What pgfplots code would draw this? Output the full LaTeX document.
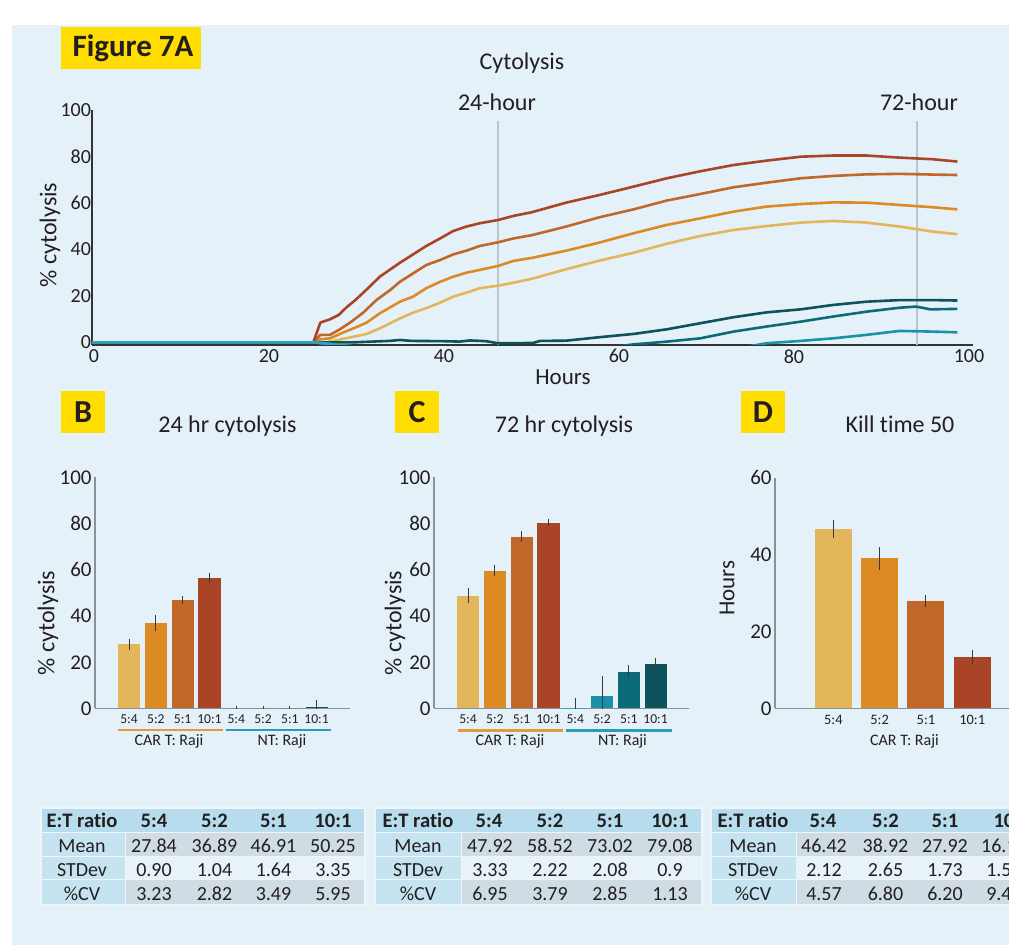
\documentclass[border=0pt]{standalone}
\usepackage{fontspec}
\setmainfont{Carlito}[Ligatures=NoCommon]
\usepackage{pgfplots}
\pgfplotsset{compat=1.18}
\definecolor{bg}{HTML}{E4F1F8}
\definecolor{yel}{HTML}{FFDD00}
\definecolor{txt}{HTML}{231F20}
\definecolor{c1}{HTML}{E3B65C}
\definecolor{c2}{HTML}{DC8A24}
\definecolor{c3}{HTML}{C16828}
\definecolor{c4}{HTML}{A94426}
\definecolor{n1}{HTML}{2AA7BF}
\definecolor{n2}{HTML}{1A91A8}
\definecolor{n3}{HTML}{0B6C78}
\definecolor{n4}{HTML}{0E525B}
\definecolor{axg}{HTML}{8A9297}
\definecolor{vline}{HTML}{BCC3C9}
\definecolor{errc}{HTML}{3A3A3A}
\definecolor{grpo}{HTML}{E39A3A}
\definecolor{grpt}{HTML}{2A9DB5}
\definecolor{thead}{HTML}{B6DCEE}
\definecolor{tlab}{HTML}{C5E3F1}
\definecolor{tgray}{HTML}{D0DCE3}
\definecolor{tlight}{HTML}{E8F3F9}
\definecolor{tframe}{HTML}{EEF6FA}
\pgfplotsset{
  panel/.style={scale only axis, anchor=south west, axis lines=left,
    enlargelimits=false, clip=true,
    major tick length=0pt, tick style={draw=none},
    /pgf/number format/assume math mode=true,
    tick label style={text=txt}},
  mybar/.style={ybar, bar width=#1, bar shift=0pt, draw=none,
    /pgfplots/error bars/y dir=both, /pgfplots/error bars/y explicit,
    /pgfplots/error bars/error bar style={line width=0.5pt, color=errc},
    /pgfplots/error bars/error mark options={mark size=1.3pt, line width=0.5pt, color=errc}},
  curve/.style={line width=1.3pt, mark=none, line join=round},
}
\begin{document}
\begin{tikzpicture}[x=0.5pt,y=-0.5pt]
\path[use as bounding box] (0,0) rectangle (1009,945);
\clip (0,0) rectangle (1009,945);
\fill[white] (0,0) rectangle (1009,945);
\fill[bg] (12,25) rectangle (1009,945);
\coordinate (Aorig) at (92,345);
\coordinate (Borig) at (95,708.5);
\coordinate (Corig) at (434,708.5);
\coordinate (Dorig) at (775,708.5);

% ---------- Panel A ----------
\begin{axis}[panel, at={(Aorig)}, width=440.5pt, height=117.35pt,
  xmin=0, xmax=100.69, ymin=-1.16, ymax=100,
  xtick={0,20,...,100}, ytick={0,20,...,100},
  axis line style={-, line width=0.75pt, draw=black!80},
  yticklabel style={font=\fontsize{10}{12}\selectfont, inner xsep=0.3pt},
  xticklabel style={font=\fontsize{10}{12}\selectfont, inner ysep=2pt, xshift=1pt}]
\addplot[line width=1pt, vline] coordinates {(46.4,-1.16) (46.4,95.5)};
\addplot[line width=1pt, vline] coordinates {(94.3,-1.16) (94.3,95.5)};
\addplot[curve, c1] coordinates {(0,0) (25.3,0) (26.5,-0.3) (28.5,1.3) (29.9,2.4) (31.4,3.6) (32.9,6.0) (35.2,10.3) (36.7,12.8) (38.2,14.7) (39.8,17.1) (41.3,19.7) (42.8,21.4) (44.3,23.3) (46.4,24.4) (48.2,25.7) (50.3,27.4) (54.2,31.5) (58.0,35.2) (61.9,38.6) (65.7,42.5) (69.5,45.8) (73.3,48.4) (77.1,50.1) (81.0,51.6) (84.7,52.3) (88.5,51.6) (92.3,49.9) (96.1,47.7) (98.9,46.6)};
\addplot[curve, c2] coordinates {(0,0) (25.3,0) (26.1,1.3) (27.2,1.7) (28.7,4.2) (30.2,6.5) (31.4,8.5) (32.9,12.5) (35.2,17.5) (36.7,19.7) (38.2,23.3) (39.8,26.1) (41.3,28.3) (42.8,30.0) (44.3,31.2) (46.4,32.9) (48.2,35.1) (50.3,36.4) (54.2,39.5) (58.0,43.0) (61.9,47.0) (65.7,50.6) (69.5,53.4) (73.3,56.3) (77.1,58.5) (81.0,59.6) (84.7,60.3) (88.5,60.2) (92.3,59.2) (96.1,58.2) (98.9,57.3)};
\addplot[curve, c3] coordinates {(0,0) (25.3,0) (26.1,3.2) (27.2,3.2) (28.2,5.3) (29.5,8.5) (31.0,12.8) (32.5,18.2) (34.1,22.6) (35.2,26.1) (36.7,29.7) (38.2,33.3) (39.8,35.5) (41.3,37.9) (42.8,39.5) (44.3,41.5) (46.4,43.1) (48.2,44.8) (50.3,46.2) (54.2,49.9) (58.0,53.9) (61.9,57.3) (65.7,61.1) (69.5,63.9) (73.3,66.8) (77.1,68.8) (81.0,70.7) (84.7,71.7) (88.5,72.4) (92.3,72.6) (96.1,72.3) (98.9,72.1)};
\addplot[curve, c4] coordinates {(0,0) (25.3,0) (26.1,8.5) (27.2,9.9) (28.2,11.8) (29.1,15.1) (30.1,18.2) (31.4,22.8) (32.9,28.3) (35.2,34.3) (36.7,37.9) (38.2,41.5) (39.8,44.8) (41.3,48.0) (42.8,49.9) (44.3,51.3) (46.4,52.7) (48.2,54.5) (50.2,56.0) (54.2,60.2) (58.0,63.5) (61.9,67.1) (65.7,70.7) (69.5,73.7) (73.3,76.4) (77.1,78.3) (81.0,80.0) (84.7,80.5) (88.5,80.5) (92.3,79.6) (96.1,78.9) (98.9,77.9)};
\addplot[curve, n4] coordinates {(0,0) (25.3,0) (30,0) (32,0.3) (34,0.6) (35.2,1.0) (36.5,0.6) (40,0.5) (42,0.3) (43.2,0.8) (45,0.5) (46.4,-0.4) (50.4,-0.3) (51.2,0.6) (54.2,0.7) (58.0,2.2) (61.9,3.6) (65.7,5.6) (69.5,8.2) (73.3,10.8) (77.1,12.9) (81.0,14.2) (84.7,16.1) (88.5,17.5) (92.3,18.2) (96.1,18.2) (98.9,18.0)};
\addplot[curve, n3] coordinates {(0,0) (25.3,0) (30,-1.8) (60,-1.8) (61.9,-0.9) (65.7,0.3) (69.5,1.7) (73.3,4.6) (77.1,6.8) (81.0,8.9) (84.7,11.1) (88.5,13.2) (92.3,14.9) (94.2,15.4) (95.8,14.2) (98.9,14.4)};
\addplot[curve, n2] coordinates {(0,0) (25.3,0) (30,-1.8) (75,-1.8) (77.1,-0.4) (81.0,0.6) (84.7,1.7) (88.5,3.2) (92.3,4.9) (96.1,4.6) (98.9,4.3)};
\addplot[curve, n1] coordinates {(0,0) (25.3,0) (30,-1.8) (98.9,-1.8)};
\end{axis}

% ---------- Panel B ----------
\begin{axis}[panel, at={(Borig)}, width=127.5pt, height=115.5pt,
  xmin=-1.27, xmax=8.246, ymin=0, ymax=100,
  ytick={0,20,...,100}, xtick={0,...,7},
  xticklabels={5:4,5:2,5:1,10:1,5:4,5:2,5:1,10:1},
  axis line style={-, line width=0.85pt, draw=axg},
  yticklabel style={font=\fontsize{10.5}{12}\selectfont, inner xsep=1.5pt},
  xticklabel style={font=\fontsize{6.8}{8}\selectfont, inner ysep=3pt}]
\addplot[mybar=11.1pt, fill=c1] coordinates {(0,27.8) +- (0,1.2)};
\addplot[mybar=11.1pt, fill=c2] coordinates {(1,36.9) +- (0,2.3)};
\addplot[mybar=11.1pt, fill=c3] coordinates {(2,46.9) +- (0,0.65)};
\addplot[mybar=11.1pt, fill=c4] coordinates {(3,56.4) +- (0,1.15)};
\addplot[mybar=11.1pt, fill=n1] coordinates {(4,0) +- (0,0)};
\addplot[mybar=11.1pt, fill=n2] coordinates {(5,0) +- (0,0)};
\addplot[mybar=11.1pt, fill=n3] coordinates {(6,0) +- (0,0)};
\addplot[mybar=11.1pt, fill=n4] coordinates {(7,0.8) +- (0,1.6)};
\end{axis}

% ---------- Panel C ----------
\begin{axis}[panel, at={(Corig)}, width=127.5pt, height=115.5pt,
  xmin=-1.27, xmax=8.246, ymin=0, ymax=100,
  ytick={0,20,...,100}, xtick={0,...,7},
  xticklabels={5:4,5:2,5:1,10:1,5:4,5:2,5:1,10:1},
  axis line style={-, line width=0.85pt, draw=axg},
  yticklabel style={font=\fontsize{10.5}{12}\selectfont, inner xsep=1.5pt},
  xticklabel style={font=\fontsize{6.8}{8}\selectfont, inner ysep=3pt}]
\addplot[mybar=11.1pt, fill=c1] coordinates {(0,48.8) +- (0,2.2)};
\addplot[mybar=11.1pt, fill=c2] coordinates {(1,59.6) +- (0,1.3)};
\addplot[mybar=11.1pt, fill=c3] coordinates {(2,74.3) +- (0,1.2)};
\addplot[mybar=11.1pt, fill=c4] coordinates {(3,80.4) +- (0,0.4)};
\addplot[mybar=11.1pt, fill=n1] coordinates {(4,0.3) +- (0,3.2)};
\addplot[mybar=11.1pt, fill=n2] coordinates {(5,5.5) +- (0,7.3)};
\addplot[mybar=11.1pt, fill=n3] coordinates {(6,15.9) +- (0,1.7)};
\addplot[mybar=11.1pt, fill=n4] coordinates {(7,19.3) +- (0,1.3)};
\end{axis}

% ---------- Panel D ----------
\begin{axis}[panel, at={(Dorig)}, width=117pt, height=115.5pt,
  xmin=-1.26, xmax=3.794, ymin=0, ymax=60,
  ytick={0,20,40,60}, xtick={0,...,3},
  xticklabels={5:4,5:2,5:1,10:1},
  axis line style={-, line width=0.85pt, draw=axg},
  yticklabel style={font=\fontsize{10.5}{12}\selectfont, inner xsep=1.5pt},
  xticklabel style={font=\fontsize{7.2}{8}\selectfont, inner ysep=3pt}]
\addplot[mybar=18.5pt, fill=c1] coordinates {(0,46.6) +- (0,1.56)};
\addplot[mybar=18.5pt, fill=c2] coordinates {(1,39.0) +- (0,2.3)};
\addplot[mybar=18.5pt, fill=c3] coordinates {(2,27.9) +- (0,0.95)};
\addplot[mybar=18.5pt, fill=c4] coordinates {(3,13.3) +- (0,1.1)};
\end{axis}

% ---------- Text ----------
\fill[yel] (61,27) rectangle (201,69);
\node[anchor=base, text=txt, font=\fontsize{15.5}{18}\selectfont\bfseries] at (133,57) {Figure 7A};
\node[anchor=base, text=txt, font=\fontsize{12}{14}\selectfont] at (522,70) {Cytolysis};
\node[anchor=base, text=txt, font=\fontsize{12}{14}\selectfont] at (497,111) {24-hour};
\node[anchor=base, text=txt, font=\fontsize{12}{14}\selectfont] at (919,111) {72-hour};
\node[text=txt, font=\fontsize{11.5}{14}\selectfont] at (563,377) {Hours};
\node[rotate=90, text=txt, font=\fontsize{12}{14}\selectfont] at (50,235) {\% cytolysis};

\fill[yel] (61,391) rectangle (105,433);
\fill[yel] (395,391) rectangle (439,433);
\fill[yel] (741,391) rectangle (785,433);
\node[anchor=base, text=txt, font=\fontsize{16}{18}\selectfont\bfseries] at (83,423) {B};
\node[anchor=base, text=txt, font=\fontsize{16}{18}\selectfont\bfseries] at (417,423) {C};
\node[anchor=base, text=txt, font=\fontsize{16}{18}\selectfont\bfseries] at (763,423) {D};
\node[anchor=base, text=txt, font=\fontsize{12}{14}\selectfont] at (227.5,433) {24 hr cytolysis};
\node[anchor=base, text=txt, font=\fontsize{12}{14}\selectfont] at (564,433) {72 hr cytolysis};
\node[anchor=base, text=txt, font=\fontsize{12}{14}\selectfont] at (900,433) {Kill time 50};

\node[rotate=90, text=txt, font=\fontsize{12}{14}\selectfont] at (48,623) {\% cytolysis};
\node[rotate=90, text=txt, font=\fontsize{12}{14}\selectfont] at (395,623) {\% cytolysis};
\node[rotate=90, text=txt, font=\fontsize{11.5}{14}\selectfont] at (727,588) {Hours};

\draw[grpo, line width=1.2pt] (118,730) -- (223,730);
\draw[grpt, line width=1.2pt] (226,730) -- (331,730);
\draw[grpo, line width=1.2pt] (458,730.5) -- (563,730.5);
\draw[grpt, line width=1.2pt] (566,730.5) -- (672,730.5);
\node[anchor=base, text=txt, font=\fontsize{8}{10}\selectfont] at (169,746) {CAR T: Raji};
\node[anchor=base, text=txt, font=\fontsize{8}{10}\selectfont] at (282,746) {NT: Raji};
\node[anchor=base, text=txt, font=\fontsize{8}{10}\selectfont] at (510,746) {CAR T: Raji};
\node[anchor=base, text=txt, font=\fontsize{8}{10}\selectfont] at (622.5,746) {NT: Raji};
\node[anchor=base, text=txt, font=\fontsize{8}{10}\selectfont] at (904.5,746) {CAR T: Raji};

% ---------- Tables ----------
\tikzset{th/.style={anchor=base, text=txt, font=\fontsize{10.3}{12}\selectfont\bfseries},
         td/.style={anchor=base, text=txt, font=\fontsize{10}{12}\selectfont}}
% Table B
\fill[tframe] (40,807) rectangle (366,906);
\fill[thead] (42,809) rectangle (364,832);
\fill[tlab] (42,832.8) rectangle (125,856.5);
\fill[tgray] (125.8,832.8) rectangle (364,856.5);
\fill[tlab] (42,857.3) rectangle (125,879.5);
\fill[tlight] (125.8,857.3) rectangle (364,879.5);
\fill[tlab] (42,880.3) rectangle (125,904);
\fill[tgray] (125.8,880.3) rectangle (364,904);
\node[th] at (82,828) {E:T ratio};
\node[th] at (154,828) {5:4};
\node[th] at (214.5,828) {5:2};
\node[th] at (273.5,828) {5:1};
\node[th] at (333,828) {10:1};
\node[td] at (82,853) {Mean};
\node[td] at (154,853) {27.84};
\node[td] at (214.5,853) {36.89};
\node[td] at (273.5,853) {46.91};
\node[td] at (333,853) {50.25};
\node[td] at (82,877) {STDev};
\node[td] at (154,877) {0.90};
\node[td] at (214.5,877) {1.04};
\node[td] at (273.5,877) {1.64};
\node[td] at (333,877) {3.35};
\node[td] at (82,901) {\%CV};
\node[td] at (154,901) {3.23};
\node[td] at (214.5,901) {2.82};
\node[td] at (273.5,901) {3.49};
\node[td] at (333,901) {5.95};
% Table C
\fill[tframe] (374,807) rectangle (703,906);
\fill[thead] (376,809) rectangle (701,832);
\fill[tlab] (376,832.8) rectangle (461,856.5);
\fill[tgray] (461.8,832.8) rectangle (701,856.5);
\fill[tlab] (376,857.3) rectangle (461,879.5);
\fill[tlight] (461.8,857.3) rectangle (701,879.5);
\fill[tlab] (376,880.3) rectangle (461,904);
\fill[tgray] (461.8,880.3) rectangle (701,904);
\node[th] at (418,828) {E:T ratio};
\node[th] at (489,828) {5:4};
\node[th] at (550,828) {5:2};
\node[th] at (610,828) {5:1};
\node[th] at (670,828) {10:1};
\node[td] at (418,853) {Mean};
\node[td] at (490,853) {47.92};
\node[td] at (550,853) {58.52};
\node[td] at (610,853) {73.02};
\node[td] at (670,853) {79.08};
\node[td] at (418,877) {STDev};
\node[td] at (490,877) {3.33};
\node[td] at (550,877) {2.22};
\node[td] at (610,877) {2.08};
\node[td] at (670,877) {0.9};
\node[td] at (418,901) {\%CV};
\node[td] at (490,901) {6.95};
\node[td] at (550,901) {3.79};
\node[td] at (610,901) {2.85};
\node[td] at (670,901) {1.13};
% Table D
\fill[tframe] (710,807) rectangle (1012,906);
\fill[thead] (712,809) rectangle (1012,832);
\fill[tlab] (712,832.8) rectangle (796,856.5);
\fill[tgray] (796.8,832.8) rectangle (1012,856.5);
\fill[tlab] (712,857.3) rectangle (796,879.5);
\fill[tlight] (796.8,857.3) rectangle (1012,879.5);
\fill[tlab] (712,880.3) rectangle (796,904);
\fill[tgray] (796.8,880.3) rectangle (1012,904);
\node[th] at (753,828) {E:T ratio};
\node[th] at (823,828) {5:4};
\node[th] at (885.5,828) {5:2};
\node[th] at (945,828) {5:1};
\node[th] at (1012,828) {10:1};
\node[td] at (753,853) {Mean};
\node[td] at (824,853) {46.42};
\node[td] at (885.5,853) {38.92};
\node[td] at (945,853) {27.92};
\node[td] at (1004,853) {16.17};
\node[td] at (753,877) {STDev};
\node[td] at (824,877) {2.12};
\node[td] at (885.5,877) {2.65};
\node[td] at (945,877) {1.73};
\node[td] at (1004,877) {1.53};
\node[td] at (753,901) {\%CV};
\node[td] at (824,901) {4.57};
\node[td] at (885.5,901) {6.80};
\node[td] at (945,901) {6.20};
\node[td] at (1004,901) {9.46};
\end{tikzpicture}
\end{document}
